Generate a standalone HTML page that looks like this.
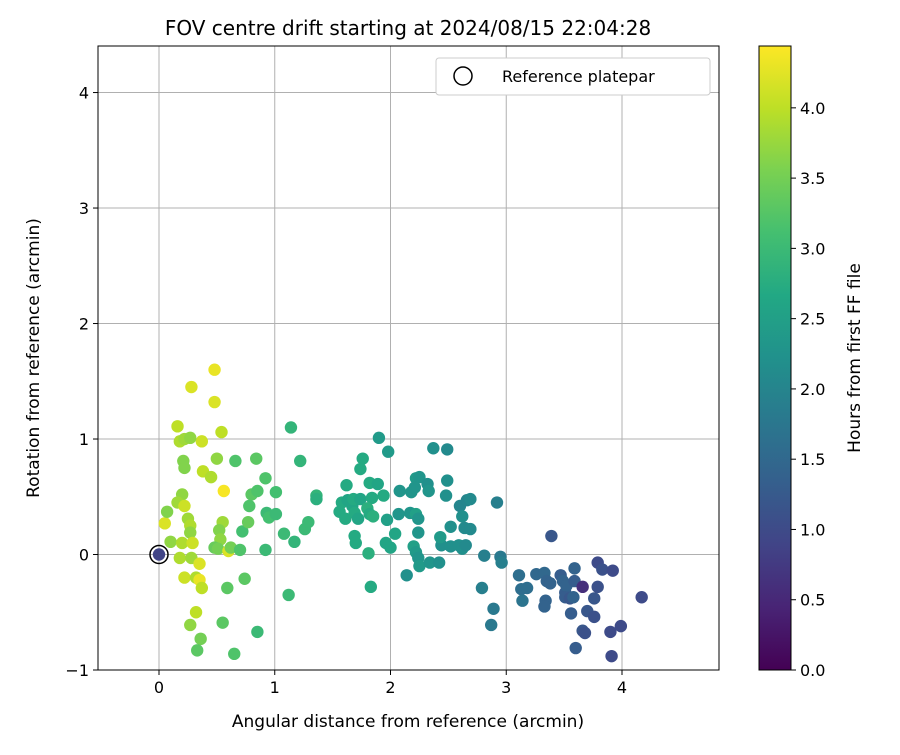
<!DOCTYPE html>
<html><head><meta charset="utf-8"><style>
body{margin:0;background:#fff;}
svg text{font-family:"DejaVu Sans","Liberation Sans",sans-serif;fill:#000;}
</style></head><body>
<svg id="chart" width="900" height="750" xmlns="http://www.w3.org/2000/svg">
<defs><linearGradient id="cbgrad" x1="0" y1="1" x2="0" y2="0">
<stop offset="0" stop-color="rgb(68,1,84)"/><stop offset="0.1" stop-color="rgb(72,36,117)"/><stop offset="0.2" stop-color="rgb(65,68,135)"/><stop offset="0.3" stop-color="rgb(53,95,141)"/><stop offset="0.4" stop-color="rgb(42,120,142)"/><stop offset="0.5" stop-color="rgb(33,145,140)"/><stop offset="0.6" stop-color="rgb(34,168,132)"/><stop offset="0.7" stop-color="rgb(68,191,112)"/><stop offset="0.8" stop-color="rgb(122,209,81)"/><stop offset="0.9" stop-color="rgb(189,223,38)"/><stop offset="1" stop-color="rgb(253,231,37)"/>
</linearGradient></defs>
<g id="grid"></g>
<g id="points"></g>
<rect x="98" y="46" width="621" height="624" fill="none" stroke="#000" stroke-width="1"/>
<g id="ticks"></g>
<text x="408" y="35" font-size="20" text-anchor="middle">FOV centre drift starting at 2024/08/15 22:04:28</text>
<text x="408" y="727" font-size="17" text-anchor="middle">Angular distance from reference (arcmin)</text>
<text transform="translate(39,358) rotate(-90)" font-size="17" text-anchor="middle">Rotation from reference (arcmin)</text>
<g>
<rect x="436" y="58" width="274" height="37" rx="3" fill="#fff" stroke="#ccc"/>
<circle cx="463" cy="76" r="9" fill="none" stroke="#000" stroke-width="1.5"/>
<text x="502" y="82" font-size="16">Reference platepar</text>
</g>
<rect x="759" y="46" width="32" height="624" fill="url(#cbgrad)" stroke="#000"/>
<g id="cbticks"></g>
<text transform="translate(860,358) rotate(-90)" font-size="17" text-anchor="middle">Hours from first FF file</text>
</svg>
<script>
const xTicks=[0,1,2,3,4];
const yTicks=[-1,0,1,2,3,4];
const cbTicks=[0,0.5,1,1.5,2,2.5,3,3.5,4];
const cbTickLabels=["0.0","0.5","1.0","1.5","2.0","2.5","3.0","3.5","4.0"];
const yTickLabels=["\u22121","0","1","2","3","4"];
const xs=[0.05,0.16,0.28,0.48,0.48,0.54,0.37,0.18,0.22,0.27,0.21,0.22,0.38,0.45,0.50,0.56,0.20,0.16,0.22,0.07,0.25,0.27,0.27,0.10,0.20,0.29,0.18,0.28,0.35,0.22,0.32,0.35,0.37,0.32,0.27,0.36,0.33,0.55,0.52,0.53,0.48,0.51,0.60,0.62,0.70,0.72,0.77,0.74,0.59,0.55,0.65,0.85,0.66,0.84,0.92,0.80,0.85,0.78,0.93,0.95,1.01,1.01,0.92,1.14,1.22,1.08,1.17,1.26,1.29,1.36,1.36,1.12,1.62,1.58,1.63,1.56,1.61,1.67,1.68,1.69,1.72,1.69,1.70,1.74,1.76,1.74,1.82,1.84,1.80,1.82,1.85,1.81,1.83,1.89,1.94,1.90,1.98,1.97,2.04,1.96,2.00,2.07,2.08,2.14,2.17,2.18,2.22,2.25,2.21,2.22,2.24,2.24,2.20,2.22,2.24,2.25,2.32,2.33,2.34,2.37,2.44,2.43,2.42,2.49,2.48,2.49,2.52,2.52,2.59,2.60,2.62,2.62,2.64,2.66,2.65,2.69,2.69,2.81,2.79,2.92,2.95,2.96,2.89,2.87,3.11,3.13,3.14,3.18,3.26,3.33,3.35,3.34,3.33,3.38,3.39,3.47,3.49,3.51,3.52,3.51,3.55,3.56,3.58,3.59,3.59,3.60,3.66,3.66,3.68,3.70,3.76,3.76,3.79,3.79,3.83,3.92,3.90,3.99,3.91,4.17,0];
const ys=[0.27,1.11,1.45,1.60,1.32,1.06,0.98,0.98,1.0,1.01,0.81,0.75,0.72,0.67,0.83,0.55,0.52,0.45,0.42,0.37,0.31,0.25,0.19,0.11,0.10,0.10,-0.03,-0.03,-0.08,-0.20,-0.20,-0.22,-0.29,-0.50,-0.61,-0.73,-0.83,0.28,0.21,0.13,0.06,0.05,0.03,0.06,0.04,0.20,0.28,-0.21,-0.29,-0.59,-0.86,-0.67,0.81,0.83,0.66,0.52,0.55,0.42,0.36,0.32,0.35,0.54,0.04,1.10,0.81,0.18,0.11,0.22,0.28,0.51,0.48,-0.35,0.6,0.45,0.47,0.37,0.31,0.42,0.48,0.36,0.31,0.16,0.10,0.48,0.83,0.74,0.62,0.49,0.40,0.35,0.33,0.01,-0.28,0.61,0.51,1.01,0.89,0.30,0.18,0.10,0.06,0.35,0.55,-0.18,0.36,0.54,0.66,0.67,0.58,0.35,0.31,0.19,0.07,0.02,-0.03,-0.10,0.61,0.55,-0.07,0.92,0.08,0.15,-0.07,0.91,0.51,0.64,0.24,0.07,0.08,0.42,0.33,0.05,0.23,0.47,0.08,0.48,0.22,-0.01,-0.29,0.45,-0.02,-0.07,-0.47,-0.61,-0.18,-0.30,-0.40,-0.29,-0.17,-0.16,-0.23,-0.40,-0.45,-0.25,0.16,-0.18,-0.23,-0.33,-0.27,-0.37,-0.38,-0.51,-0.37,-0.12,-0.23,-0.81,-0.28,-0.66,-0.68,-0.49,-0.54,-0.38,-0.28,-0.07,-0.13,-0.14,-0.67,-0.62,-0.88,-0.37,0];
const hours=[4.2,4.0,4.2,4.3,4.2,4.0,4.1,3.9,3.8,3.7,3.6,3.6,4.0,3.9,3.7,4.4,3.7,3.8,4.1,3.6,3.8,3.9,3.7,3.7,3.9,4.1,3.9,3.8,4.2,4.1,3.9,4.3,4.0,4.0,3.7,3.5,3.3,3.8,3.6,3.7,3.4,3.5,4.2,3.5,3.2,3.1,3.4,3.3,3.3,3.3,3.2,3.0,3.2,3.3,3.2,3.3,3.2,3.2,3.0,3.1,3.0,3.1,3.0,2.9,2.9,3.0,2.9,3.0,3.0,2.9,2.8,3.0,2.7,2.7,2.6,2.7,2.7,2.6,2.7,2.7,2.6,2.7,2.7,2.6,2.7,2.7,2.7,2.7,2.8,2.7,2.8,2.8,2.7,2.6,2.7,2.4,2.4,2.5,2.6,2.6,2.6,2.3,2.3,2.2,2.3,2.3,2.4,2.3,2.3,2.5,2.3,2.3,2.5,2.4,2.3,2.4,2.2,2.3,2.3,2.2,2.2,2.4,2.2,2.1,2.2,2.2,2.2,2.2,2.2,2.0,2.2,2.2,2.1,2.0,2.1,2.1,2.1,1.9,1.9,1.9,1.8,1.9,1.8,1.8,1.6,1.6,1.7,1.6,1.5,1.5,1.4,1.4,1.4,1.4,1.2,1.3,1.4,1.3,1.4,1.3,1.2,1.3,1.4,1.4,1.3,1.3,0.6,1.2,1.1,1.2,1.1,1.2,1.1,1.0,1.1,1.0,1.0,1.0,1.0,1.0,0.9];
const NS="http://www.w3.org/2000/svg";
const X0=98,X1=719,XMIN=-0.527,XMAX=4.838,Y0=670,Y1=46,YMIN=-1.0,YMAX=4.403,HMAX=4.44;
const sx=v=>X0+(v-XMIN)/(XMAX-XMIN)*(X1-X0);
const sy=v=>Y0-(v-YMIN)/(YMAX-YMIN)*(Y0-Y1);
const sc=v=>670-v/HMAX*624;
const vir=[[68,1,84],[72,36,117],[65,68,135],[53,95,141],[42,120,142],[33,145,140],[34,168,132],[68,191,112],[122,209,81],[189,223,38],[253,231,37]];
function color(h){const t=Math.max(0,Math.min(1,h/HMAX))*10;const i=Math.min(9,Math.floor(t));const f=t-i;const a=vir[i],b=vir[i+1];return `rgb(${a.map((c,k)=>Math.round(c+(b[k]-c)*f)).join(',')})`;}
function mk(tag,attrs,parent){const e=document.createElementNS(NS,tag);for(const k in attrs)e.setAttribute(k,attrs[k]);parent.appendChild(e);return e;}
const grid=document.getElementById('grid'),ticks=document.getElementById('ticks'),pts=document.getElementById('points'),cbt=document.getElementById('cbticks');
xTicks.forEach(v=>{const x=sx(v);
 const g=mk('line',{x1:x,x2:x,y1:Y1,y2:Y0,stroke:'#b0b0b0','stroke-width':1},grid);
 const t=mk('line',{x1:x,x2:x,y1:Y0,y2:Y0+5,stroke:'#000'},ticks);
 const l=mk('text',{x:x,y:Y0+23,'font-size':16,'text-anchor':'middle'},ticks);l.textContent=String(v);});
yTicks.forEach((v,i)=>{const y=sy(v);
 const g=mk('line',{x1:X0,x2:X1,y1:y,y2:y,stroke:'#b0b0b0','stroke-width':1},grid);
 const t=mk('line',{x1:X0-5,x2:X0,y1:y,y2:y,stroke:'#000'},ticks);
 const l=mk('text',{x:X0-9,y:y+6,'font-size':16,'text-anchor':'end'},ticks);l.textContent=yTickLabels[i];});
xs.forEach((v,i)=>{const c=mk('circle',{cx:sx(v),cy:sy(ys[i]),r:6.2,fill:color(hours[i])},pts);});
const ref=mk('circle',{cx:sx(0),cy:sy(0),r:9,fill:'none',stroke:'#000','stroke-width':1.5},pts);


cbTicks.forEach((v,i)=>{const y=sc(v);
 const t=mk('line',{x1:791,x2:796,y1:y,y2:y,stroke:'#000'},cbt);
 const l=mk('text',{x:800,y:y+6,'font-size':16},cbt);l.textContent=cbTickLabels[i];});
</script>
</body></html>
